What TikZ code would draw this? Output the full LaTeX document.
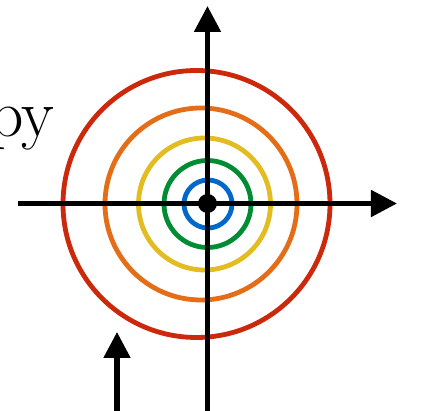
\documentclass[tikz,border=0pt]{standalone}
\usepackage{xcolor}
\usepackage{tikz}
\usetikzlibrary{arrows.meta, positioning}
\definecolor{ringred}{RGB}{204,40,12}
\definecolor{ringorange}{RGB}{228,110,24}
\definecolor{ringyellow}{RGB}{226,188,32}
\definecolor{ringgreen}{RGB}{0,140,50}
\definecolor{ringblue}{RGB}{0,104,200}
\tikzset{
  axis/.style={-{Triangle[length=0.65cm, width=0.65cm]}, line width=0.125cm, color=black},
  ring/.style={line width=0.12cm}
}
\begin{document}
\begin{tikzpicture}[x=0.025cm, y=-0.025cm]
  \useasboundingbox (0,0) rectangle (424,411);
  \coordinate (O) at (207.5,203.5);
  % wavefronts, older ones drift left
  \draw[ring, ringred]    (196.5,204) circle[radius=133.5];
  \draw[ring, ringorange] (201,204)   circle[radius=96];
  \draw[ring, ringyellow] (204.5,204) circle[radius=66];
  \draw[ring, ringgreen]  (207.5,204) circle[radius=43.5];
  \draw[ring, ringblue]   (208,204)   circle[radius=24];
  % axes
  \draw[axis] (18,203.5) -- (397,203.5);
  \draw[axis] (207.5,411) -- (207.5,6);
  \fill[black] (O) circle[radius=9.5];
  % small pointer
  \draw[axis] (117,411) -- (117,332);
  % label
  \node[anchor=base east, inner sep=0, font=\fontsize{48}{48}\selectfont] (lbl) at (55,137) {py};
\end{tikzpicture}
\end{document}
